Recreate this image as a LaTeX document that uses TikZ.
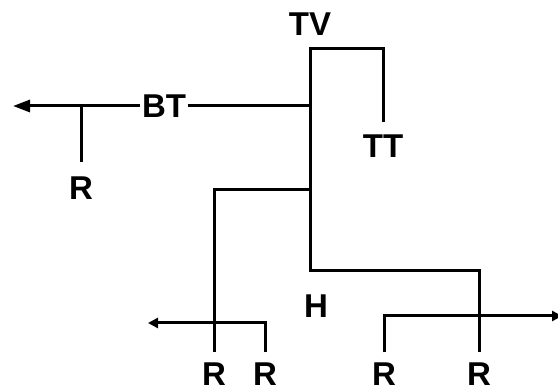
\documentclass[tikz,border=0pt]{standalone}
\usepackage{fontspec}
\setmainfont{Liberation Sans}
\usepackage{tikz}
\usetikzlibrary{arrows.meta, positioning}
\tikzset{
	labelnode/.style={
			font=\fontsize{33}{36}\selectfont\bfseries,
			text=black,
			inner xsep=1.5pt,
			inner ysep=12pt
		},
	branch/.style={
			line width=3pt,
			draw=black
		},
	bigarrow/.style={
			-{Triangle[length=17pt,width=12pt]}
		},
	smallarrow/.style={
			-{Triangle[length=10pt,width=10pt]}
		}
}

\begin{document}
\begin{tikzpicture}[x=1pt, y=-1pt]
  \useasboundingbox (0,0) rectangle (558,390);

  \node[labelnode] (tv) at (310,24) {TV};
  \node[labelnode] (tt) at (383,146) {TT};
  \node[labelnode] (bt) at (164,106) {BT};
  \node[labelnode] (h) at (316,306) {H};
  \node[labelnode, inner ysep=14pt] (rbt) at (81,188) {R};

  \node[labelnode, inner ysep=10pt] (r1) at (214,374) {R};
  \node[labelnode, inner ysep=10pt] (r2) at (265,374) {R};
  \node[labelnode, inner ysep=10pt] (r3) at (384,374) {R};
  \node[labelnode, inner ysep=10pt] (r4) at (479,374) {R};

  \coordinate (top) at (310,49);
  \coordinate (jbt) at (310,106);
  \coordinate (jl) at (310,190);
  \coordinate (jr) at (310,271);
  \coordinate (rbtj) at (81,106);
  \coordinate (btarrow) at (13,106);
  \coordinate (larrow) at (148,323);
  \coordinate (rarrow) at (562,316);

  % main stem
  \draw[branch] (tt.north) |- (top) -- (jr) -| (r4.north);
  \draw[branch] (jl) -| (r1.north);

  % BT line
  \draw[branch, bigarrow] (bt.west) -- (btarrow);
  \draw[branch] (bt.east) -- (jbt);
  \draw[branch] (rbtj) -- (rbt.north);

  % bottom arrows
  \draw[branch, smallarrow] (r2.north) |- (larrow);
  \draw[branch, smallarrow] (r3.north) |- (rarrow);

\end{tikzpicture}
\end{document}
